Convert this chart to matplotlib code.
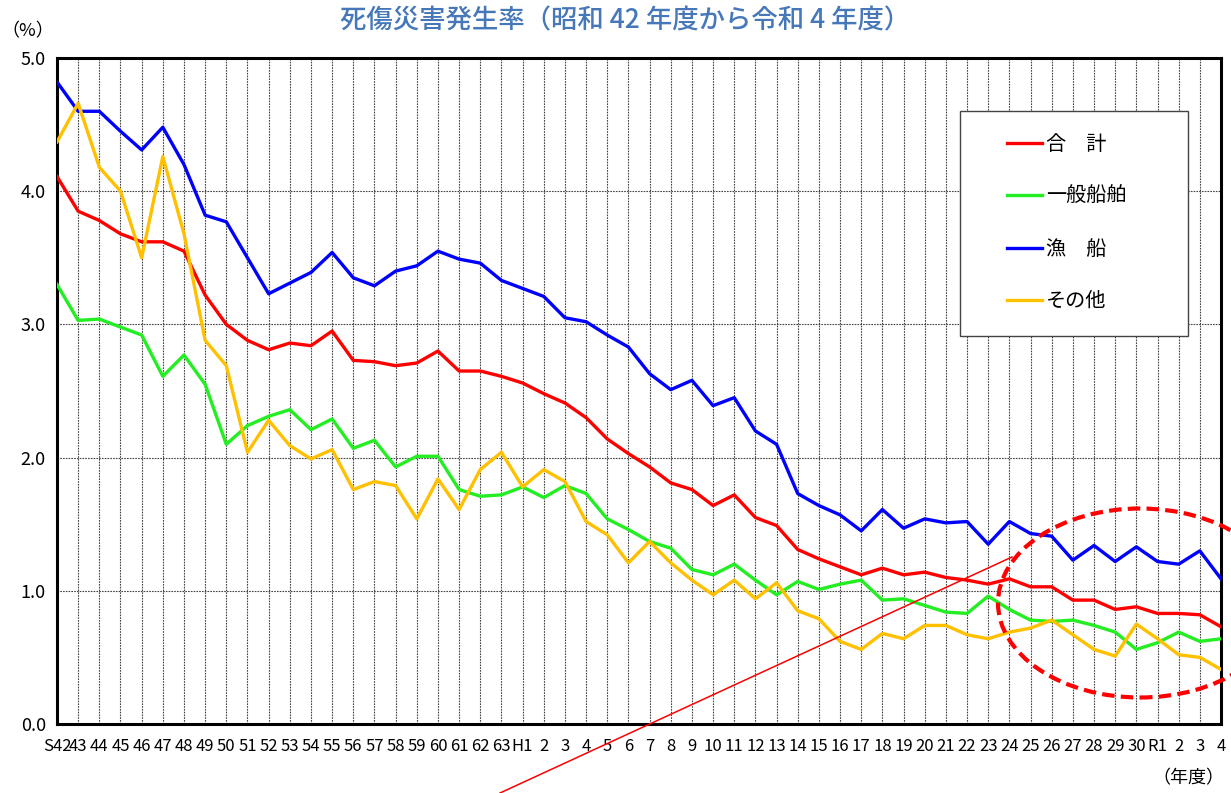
import matplotlib
matplotlib.use("Agg")
import matplotlib.pyplot as plt
from matplotlib.patches import Ellipse, Rectangle
from matplotlib.lines import Line2D
import numpy as np

plt.rcParams['font.family'] = ['Noto Sans CJK JP', 'DejaVu Sans']

# year labels: S42..S63, H1..H30, R1..R4
years = (["S42"] + [str(y) for y in range(43, 64)]
         + ["H1"] + [str(y) for y in range(2, 31)]
         + ["R1", "2", "3", "4"])

total = [4.11, 3.85, 3.78, 3.68, 3.62, 3.62, 3.55, 3.22, 3.00, 2.88,
         2.81, 2.86, 2.84, 2.95, 2.73, 2.72, 2.69, 2.71, 2.80, 2.65,
         2.65, 2.61, 2.56, 2.48, 2.41, 2.30, 2.14, 2.03, 1.93, 1.81,
         1.76, 1.64, 1.72, 1.55, 1.49, 1.31, 1.24, 1.18, 1.12, 1.17,
         1.12, 1.14, 1.10, 1.08, 1.05, 1.09, 1.03, 1.03, 0.93, 0.93,
         0.86, 0.88, 0.83, 0.83, 0.82, 0.73]

general = [3.30, 3.03, 3.04, 2.98, 2.92, 2.61, 2.77, 2.55, 2.10, 2.24,
           2.31, 2.36, 2.21, 2.29, 2.07, 2.13, 1.93, 2.01, 2.01, 1.76,
           1.71, 1.72, 1.78, 1.70, 1.79, 1.73, 1.54, 1.46, 1.37, 1.32,
           1.16, 1.12, 1.20, 1.08, 0.97, 1.07, 1.01, 1.05, 1.08, 0.93,
           0.94, 0.89, 0.84, 0.83, 0.96, 0.86, 0.78, 0.77, 0.78, 0.74,
           0.69, 0.56, 0.61, 0.69, 0.62, 0.64]

fishing = [4.82, 4.60, 4.60, 4.45, 4.31, 4.48, 4.20, 3.82, 3.77, 3.50,
           3.23, 3.31, 3.39, 3.54, 3.35, 3.29, 3.40, 3.44, 3.55, 3.49,
           3.46, 3.33, 3.27, 3.21, 3.05, 3.02, 2.92, 2.83, 2.63, 2.51,
           2.58, 2.39, 2.45, 2.20, 2.10, 1.73, 1.64, 1.57, 1.45, 1.61,
           1.47, 1.54, 1.51, 1.52, 1.35, 1.52, 1.43, 1.41, 1.23, 1.34,
           1.22, 1.33, 1.22, 1.20, 1.30, 1.09]

other = [4.37, 4.66, 4.18, 4.00, 3.50, 4.26, 3.68, 2.88, 2.69, 2.04,
         2.28, 2.09, 1.99, 2.06, 1.76, 1.82, 1.79, 1.54, 1.84, 1.61,
         1.91, 2.04, 1.78, 1.91, 1.82, 1.52, 1.42, 1.21, 1.37, 1.21,
         1.08, 0.97, 1.08, 0.94, 1.06, 0.85, 0.79, 0.62, 0.56, 0.68,
         0.64, 0.74, 0.74, 0.67, 0.64, 0.69, 0.72, 0.78, 0.67, 0.56,
         0.51, 0.75, 0.64, 0.52, 0.50, 0.41]

series = [("合　計", total, "#ff0000"),
          ("一般船舶", general, "#22ee22"),
          ("漁　船", fishing, "#0000ff"),
          ("その他", other, "#ffc000")]

W, H = 1231, 793
fig = plt.figure(figsize=(W / 100, H / 100), dpi=100)
ax = fig.add_axes([57 / W, 1 - 724 / H, 1164 / W, 666 / H])

x = np.arange(len(years))
for label, vals, color in series:
    ax.plot(x, vals, color=color, lw=2.4, label=label, zorder=3)

ax.set_xlim(0, len(years) - 1)
ax.set_ylim(0, 5.0)
ax.set_xticks(x)
ax.set_xticklabels(years, fontsize=12)
ax.set_yticks(np.arange(0, 5.1, 1.0))
ax.set_yticklabels([f"{v:.1f}" for v in np.arange(0, 5.1, 1.0)], fontsize=13)
ax.tick_params(axis='both', length=0)
ax.tick_params(axis='x', pad=10)
ax.tick_params(axis='y', pad=8)
ax.grid(True, color="#444444", linestyle=(0, (1.5, 1)), lw=0.8, zorder=1)
for s in ax.spines.values():
    s.set_linewidth(2.2)
    s.set_color("black")

# legend box drawn separately so its width matches the original
ax.add_patch(Rectangle(((960 - 57) / 1164, (724 - 336) / 666), 228 / 1164, 225 / 666,
                       transform=ax.transAxes, facecolor="white", edgecolor="#444444",
                       lw=1.0, zorder=4))
leg = ax.legend(loc="center left", bbox_to_anchor=((1007 - 57) / 1164, (724 - 223) / 666),
                fontsize=14.5, frameon=False, labelspacing=1.55, handlelength=1.75,
                handletextpad=0.2, borderpad=0, borderaxespad=0)
leg.set_zorder(5)

fig.text(625 / W, 1 - 21 / H, "死傷災害発生率（昭和 42 年度から令和 4 年度）",
         ha="center", va="center", fontsize=19, color="#4677b8", fontweight="medium")
fig.text(28 / W, 1 - 31 / H, "（%）", ha="center", va="center", fontsize=13)
fig.text(1188 / W, 1 - 778 / H, "（年度）", ha="center", va="center", fontsize=13)

# highlight of recent years
fig.add_artist(Ellipse((1140 / W, 1 - 603 / H), 284 / W, 189 / H,
                       transform=fig.transFigure, fill=False, edgecolor="#ff0000",
                       lw=3, linestyle=(0, (3, 1.5)), zorder=6))
fig.add_artist(Line2D([500 / W, 1012 / W], [0, 1 - 557 / H],
                      transform=fig.transFigure, color="#ff0000", lw=1.1, zorder=6))

fig.savefig("out.png", dpi=100)
